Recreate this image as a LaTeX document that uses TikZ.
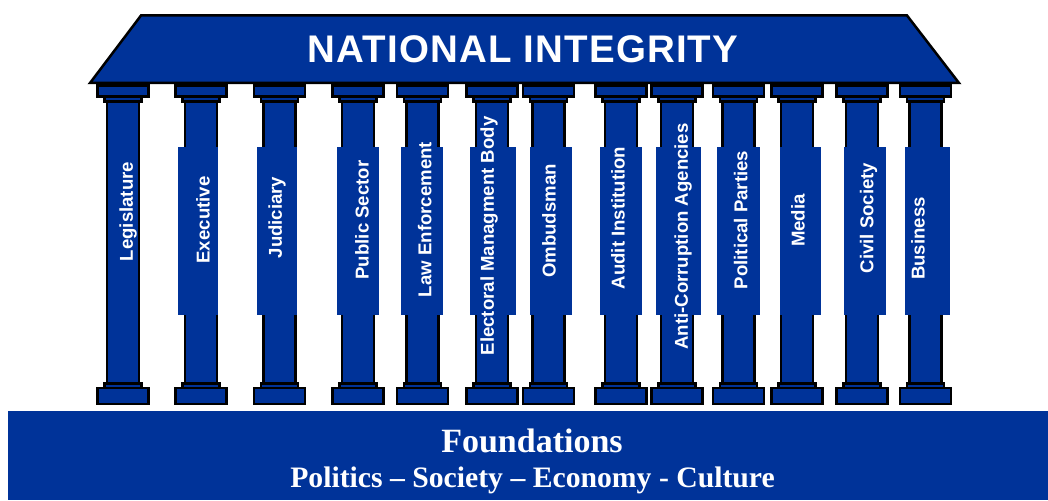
\documentclass[tikz,border=0pt]{standalone}
\usepackage{fontspec}
\setmainfont{Liberation Serif}
\setsansfont{Liberation Sans}
\definecolor{pillarblue}{HTML}{003399}
\begin{document}
\begin{tikzpicture}[x=1pt,y=-1pt,
  stone/.style={fill=pillarblue,draw=black,line width=2.5pt,line join=miter},
  plaque/.style={fill=pillarblue},
  pillartext/.style={text=white,inner sep=0pt,rotate=90,
    font=\sffamily\bfseries\fontsize{18.6}{20}\selectfont},
  headline/.style={text=white,inner sep=0pt,
    font=\sffamily\bfseries\fontsize{38.5}{40}\selectfont\addfontfeature{LetterSpace=3}},
  groundtext/.style={text=white,inner sep=0pt,anchor=base,font=\bfseries}]
\useasboundingbox (0,0) rectangle (1048,500);

% roof
\draw[stone] (141,15.5) -- (907,15.5) -- (959,83) -- (90,83) -- cycle;
\node[headline] (title) at (523,49.5) {NATIONAL INTEGRITY};

% foundation slab
\fill[pillarblue] (8,411) rectangle (1048,500);
\node[groundtext,font=\bfseries\fontsize{34}{36}\selectfont] (found) at (532,452) {Foundations};
\node[groundtext,font=\bfseries\fontsize{29.7}{32}\selectfont] (realms) at (532.5,487)
  {Politics – Society – Economy - Culture};

% pillars: shaft, capital and base
\foreach \cx [count=\i] in {123,201,279.5,358,422.5,492,548.5,621,677,738.5,797,862,925.5}{
  \draw[stone] (\cx-16,101.5) rectangle (\cx+16,383.5);
  \draw[stone] (\cx-25.5,85.5) rectangle (\cx+25.5,96.5);
  \draw[stone] (\cx-18.5,96.5) rectangle (\cx+18.5,101.5);
  \draw[stone] (\cx-18.5,383.5) rectangle (\cx+18.5,388);
  \draw[stone] (\cx-25.5,388) rectangle (\cx+25.5,404);
}

% name plaques over the shafts
\foreach \xl/\xr in {178/218,257/297,336.5/378.5,400.6/443,470/515.5,529.5/571.5,
  599.5/641.5,655.5/701,717/759.5,779.5/821,843.5/885.5,905/950}{
  \fill[plaque] (\xl,146.5) rectangle (\xr,314.7);
}

% pillar names
\foreach \tx/\ty/\lab [count=\i] in {
  128/211.5/Legislature,
  203/220/Executive,
  277/217.5/Judiciary,
  362/220/Public Sector,
  424.6/219.5/Law Enforcement,
  489/236/Electoral Managment Body,
  549/221/Ombudsman,
  618/218/Audit Institution,
  683/236.5/Anti-Corruption Agencies,
  740.7/220/Political Parties,
  798/220.5/Media,
  868.5/218/Civil Society,
  918/238.5/Business}{
  \node[pillartext] (pillar-\i) at (\tx,\ty) {\lab};
}
\end{tikzpicture}
\end{document}
